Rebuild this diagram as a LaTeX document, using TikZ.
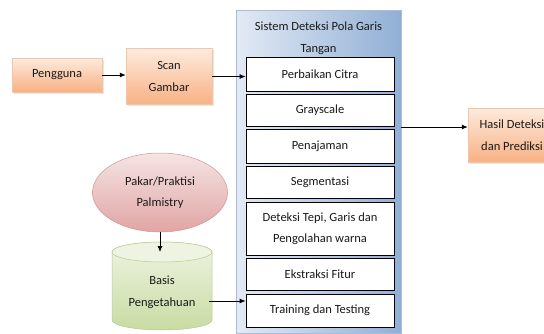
\documentclass[tikz,border=0pt]{standalone}
\usepackage{fontspec}
\setmainfont{Carlito}
\usetikzlibrary{shapes.geometric,arrows.meta,shadows}
\definecolor{orL}{HTML}{FDEBDD}
\definecolor{orD}{HTML}{F8B184}
\definecolor{orB}{HTML}{F3C5A5}
\definecolor{blL}{HTML}{E2EAF4}
\definecolor{blD}{HTML}{91AFD6}
\definecolor{blB}{HTML}{A9BDD6}
\definecolor{pkL}{HTML}{F6E4E4}
\definecolor{pkD}{HTML}{E0A5A4}
\definecolor{pkB}{HTML}{CF9594}
\definecolor{grL}{HTML}{EEF4E2}
\definecolor{grD}{HTML}{C9DBA3}
\definecolor{grB}{HTML}{B7CC8E}
\definecolor{txt}{HTML}{1A1A1A}
\tikzset{
  orbox/.style={rectangle, top color=orL, bottom color=orD, draw=orB, line width=0.5pt,
    drop shadow={shadow xshift=1.5pt, shadow yshift=-1.5pt, opacity=0.2},
    align=center, inner sep=0pt, text=txt},
  stepbox/.style={rectangle, draw=black, fill=white, line width=0.8pt,
    minimum width=148, inner sep=0pt, align=center, text=txt},
  conn/.style={line width=0.8pt, -{Latex[length=6pt,width=5pt]}},
}
\begin{document}
\begin{tikzpicture}[x=1pt,y=-1pt,font=\fontsize{12.5}{21.5}\selectfont]
\useasboundingbox (0,0) rectangle (544,333);
\clip (0,0) rectangle (544,333);
% system container
\node[rectangle, left color=blL, right color=blD, draw=blB, line width=0.8pt,
  minimum width=165, minimum height=323, inner sep=0pt] (sys) at (318.5,171.5) {};
\node[align=center, text=txt] (systitle) at (318.5,38) {Sistem Deteksi Pola Garis\\Tangan};
% steps
\node[stepbox, minimum height=34] (b1) at (320,74) {Perbaikan Citra};
\node[stepbox, minimum height=32] (b2) at (320,110) {Grayscale};
\node[stepbox, minimum height=34] (b3) at (320,146) {Penajaman};
\node[stepbox, minimum height=32] (b4) at (320,182) {Segmentasi};
\node[stepbox, minimum height=53] (b5) at (320,228.5) {Deteksi Tepi, Garis dan\\Pengolahan warna};
\node[stepbox, minimum height=32] (b6) at (320,274) {Ekstraksi Fitur};
\node[stepbox, minimum height=33] (b7) at (320,310.5) {Training dan Testing};
% left chain
\node[orbox, minimum width=90, minimum height=34] (peng) at (57,75) {Pengguna};
\node[orbox, minimum width=86, minimum height=56] (scan) at (169,76.5) {Scan\\Gambar};
% output
\node[orbox, minimum width=88, minimum height=54] (hasil) at (512,135) {Hasil Deteksi\\dan Prediksi};
% expert
\node[ellipse, top color=pkL, bottom color=pkD, draw=pkB, line width=0.5pt,
  minimum width=135, minimum height=79, inner sep=0pt, align=center, text=txt] (pakar) at (160,192.5) {Pakar/Praktisi\\Palmistry};
% database cylinder
\shade[top color=grL, bottom color=grD, draw=grB, line width=0.5pt]
  (112,252) -- (112,320) arc[start angle=180, end angle=360, x radius=50, y radius=-10]
  -- (212,252) arc[start angle=0, end angle=180, x radius=50, y radius=-10] -- cycle;
\path[fill=grL, draw=grB, line width=0.5pt] (162,252) ellipse[x radius=50, y radius=10];
\node[align=center, text=txt, inner sep=0pt] (basis) at (162,292.5) {Basis\\Pengetahuan};
\coordinate (dbtop) at (160,252);
\coordinate (dbout) at (209,301);
\coordinate (sysout) at (401,127);
% connectors
\draw[conn] (peng.east) -- (peng.east -| scan.west);
\draw[conn] (scan.east) -- (scan.east -| b1.west);
\draw[conn] (sysout) -- (sysout -| hasil.west);
\draw[conn] (pakar.south) -- (dbtop);
\draw[conn] (dbout) -- (dbout -| b7.west);
\end{tikzpicture}
\end{document}
